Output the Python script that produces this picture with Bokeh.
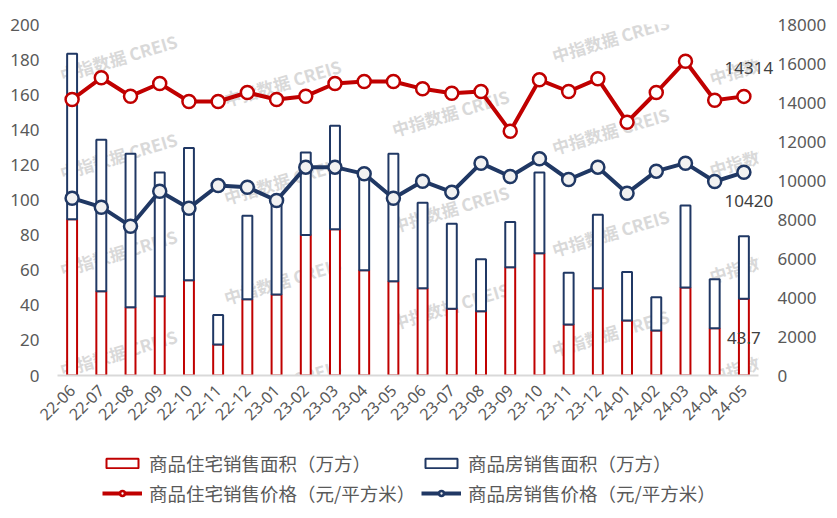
import math
import numpy as np
from bokeh.plotting import figure
from bokeh.layouts import column
from bokeh.models import (ColumnDataSource, FactorRange, Range1d, LinearAxis, FixedTicker,
                          Legend, LegendItem, Label)
from bokeh.core.properties import value
from bokeh.embed import file_html
from bokeh.resources import INLINE

# ---------------- data ----------------
months = ["22-06", "22-07", "22-08", "22-09", "22-10", "22-11", "22-12",
          "23-01", "23-02", "23-03", "23-04", "23-05", "23-06", "23-07",
          "23-08", "23-09", "23-10", "23-11", "23-12",
          "24-01", "24-02", "24-03", "24-04", "24-05"]

# 商品住宅销售面积（万方）
res_area = [89.1, 48.0, 38.9, 45.1, 54.3, 17.7, 43.4, 46.1, 80.0, 83.4, 60.0, 53.7,
            49.7, 38.1, 36.6, 61.7, 69.7, 29.1, 49.7, 31.4, 25.7, 50.1, 26.9, 43.7]
# 商品房销售面积（万方）
total_area = [183.4, 134.3, 126.3, 115.6, 129.7, 34.5, 91.0, 101.0, 127.0, 142.3, 115.0, 126.3,
              98.5, 86.5, 66.3, 87.4, 115.6, 58.5, 91.6, 59.0, 44.6, 96.8, 54.9, 79.4]
# 商品住宅销售价格（元/平方米）
res_price = [14154, 15266, 14323, 14974, 14051, 14051, 14513, 14154, 14323, 14974, 15077, 15077,
             14701, 14478, 14564, 12530, 15162, 14564, 15214, 12991, 14513, 16119, 14119, 14314]
# 商品房销售价格（元/平方米）
total_price = [9093, 8632, 7657, 9452, 8580, 9744, 9658, 8974, 10684, 10684, 10342, 9093,
               9966, 9402, 10889, 10205, 11111, 10051, 10684, 9350, 10479, 10889, 9949, 10420]

left_ticks = list(range(0, 201, 20))
right_ticks = list(range(0, 18001, 2000))

series_names = ["商品住宅销售面积（万方）", "商品房销售面积（万方）",
                "商品住宅销售价格（元/平方米）", "商品房销售价格（元/平方米）"]

watermark_text = "中指数据 CREIS"
watermark_short = "中指数据"

# ---------------- style ----------------
RED = "#C00000"
NAVY = "#203864"
GRAY_TXT = "#595959"
LABEL_FONT = "Noto Sans"
CJK_FONT = "Noto Sans CJK SC"

W = 829
H_MAIN = 437
H_LEG = 73
FL, FR, FT, FB = 57, 762, 24, 375   # frame edges in page pixels

p = figure(x_range=FactorRange(*months), y_range=Range1d(0, 200),
           width=W, height=H_MAIN, output_backend="svg", toolbar_location=None,
           title=None, min_border_left=FL, min_border_right=W - FR,
           min_border_top=FT, min_border_bottom=H_MAIN - FB)
p.outline_line_color = None
p.xgrid.visible = False
p.ygrid.visible = False
p.extra_y_ranges = {"price": Range1d(0, 18000)}

src = ColumnDataSource(dict(month=months, res=res_area, total=total_area,
                            rp=res_price, tp=total_price))

# watermarks (page positions -> frame-relative screen units)
wm_centers = [(118, 57), (118, 155), (118, 252), (118, 352),
              (282, 82), (282, 180), (282, 280), (282, 382),
              (450, 112), (450, 208), (450, 305), (452, 405),
              (610, 38), (610, 130), (610, 232), (610, 332)]
wm_short = [(742, 68), (742, 160), (742, 266), (742, 366)]
for pts, txt in ((wm_centers, watermark_text), (wm_short, watermark_short)):
    for (sx, sy) in pts:
        p.add_layout(Label(x=sx - FL, y=FB - sy, x_units="screen", y_units="screen",
                           text=txt, angle=0.29, text_align="center",
                           text_baseline="middle", text_font=CJK_FONT,
                           text_font_style="bold", text_font_size="17px",
                           text_color="#D9D9D9", level="underlay"))

# bars
bar_w = 0.34
bar_red = dict(fill_color="white", line_color=RED, line_width=2)
bar_navy = dict(fill_color="white", line_color=NAVY, line_width=2)
p.vbar(x="month", top="res", bottom=0, width=bar_w, source=src, **bar_red)
p.vbar(x="month", top="total", bottom="res", width=bar_w, source=src, **bar_navy)

# lines
line_navy = dict(line_color=NAVY, line_width=4, line_join="round")
line_red = dict(line_color=RED, line_width=4, line_join="round")
dot_navy = dict(marker="circle", size=13, fill_color="#F2F2F2", line_color=NAVY, line_width=2.5)
dot_red = dict(marker="circle", size=13, fill_color="white", line_color=RED, line_width=2.5)
p.line(x="month", y="tp", source=src, y_range_name="price", **line_navy)
p.scatter(x="month", y="tp", source=src, y_range_name="price", **dot_navy)
p.line(x="month", y="rp", source=src, y_range_name="price", **line_red)
p.scatter(x="month", y="rp", source=src, y_range_name="price", **dot_red)

# data labels for last point (overlay level so they are not clipped to the frame)
lab_rp = ColumnDataSource(dict(x=[months[-1]], y=[res_price[-1]], t=[str(res_price[-1])]))
lab_tp = ColumnDataSource(dict(x=[months[-1]], y=[total_price[-1]], t=[str(total_price[-1])]))
lab_ra = ColumnDataSource(dict(x=[months[-1]], y=[res_area[-1]], t=[str(res_area[-1])]))
common = dict(text_align="center", text_baseline="middle", text_font=value(LABEL_FONT),
              text_font_size="17px", text_color="#404040", level="overlay")
p.text(x="x", y="y", text="t", source=lab_rp, y_range_name="price",
       x_offset=5, y_offset=-28, **common)
p.text(x="x", y="y", text="t", source=lab_tp, y_range_name="price",
       x_offset=5, y_offset=29, **common)
p.text(x="x", y="y", text="t", source=lab_ra, x_offset=0, y_offset=39, **common)

# axes
ya = p.yaxis[0]
ya.ticker = FixedTicker(ticks=left_ticks)
ya.axis_line_color = None
ya.major_tick_line_color = None
ya.minor_tick_line_color = None
ya.major_label_text_font = LABEL_FONT
ya.major_label_text_font_size = "17px"
ya.major_label_text_color = GRAY_TXT
ya.major_label_standoff = 12

ra = LinearAxis(y_range_name="price", ticker=FixedTicker(ticks=right_ticks))
ra.axis_line_color = None
ra.major_tick_line_color = None
ra.minor_tick_line_color = None
ra.major_label_text_font = LABEL_FONT
ra.major_label_text_font_size = "17px"
ra.major_label_text_color = GRAY_TXT
ra.major_label_standoff = 13
p.add_layout(ra, "right")

xa = p.xaxis[0]
xa.axis_line_color = "#D9D9D9"
xa.axis_line_width = 2
xa.major_tick_line_color = None
xa.minor_tick_line_color = None
xa.major_label_orientation = math.pi / 4
xa.major_label_text_font = LABEL_FONT
xa.major_label_text_font_size = "16px"
xa.major_label_text_color = GRAY_TXT
xa.major_label_standoff = 6

# ---------------- legend strip (separate figure under the chart) ----------------
lf = figure(x_range=FactorRange(*months), y_range=Range1d(0, 1),
            width=W, height=H_LEG, output_backend="svg", toolbar_location=None,
            title=None, x_axis_location=None, y_axis_location=None,
            min_border_left=0, min_border_right=0, min_border_top=0, min_border_bottom=0)
lf.outline_line_color = None
lf.xgrid.visible = False
lf.ygrid.visible = False
# legend-only proxies carrying the same styles (a single empty/NaN row, draws nothing)
nanv = np.array([np.nan])
proxy = ColumnDataSource(dict(month=[months[0]], res=nanv, total=nanv, rp=nanv, tp=nanv))
k1 = lf.vbar(x="month", top="res", bottom=0, width=bar_w, source=proxy, **bar_red)
k2 = lf.vbar(x="month", top="total", bottom="res", width=bar_w, source=proxy, **bar_navy)
k3 = lf.line(x="month", y="rp", source=proxy, **line_red)
k4 = lf.scatter(x="month", y="rp", source=proxy, **dot_red)
k5 = lf.line(x="month", y="tp", source=proxy, **line_navy)
k6 = lf.scatter(x="month", y="tp", source=proxy, **dot_navy)

legend = Legend(items=[
    LegendItem(label=series_names[0], renderers=[k1]),
    LegendItem(label=series_names[1], renderers=[k2]),
    LegendItem(label=series_names[2], renderers=[k3, k4]),
    LegendItem(label=series_names[3], renderers=[k5, k6]),
], location=(45, 4), orientation="horizontal", ncols=2,
    glyph_width=40, glyph_height=12, label_standoff=7, label_width=268, label_height=22,
    spacing=4, padding=0, margin=0, border_line_color=None,
    background_fill_alpha=0, label_text_font=CJK_FONT, label_text_font_size="18.5px",
    label_text_color=GRAY_TXT)
lf.add_layout(legend, "center")

open("out.html", "w").write(file_html(column(p, lf), INLINE))
